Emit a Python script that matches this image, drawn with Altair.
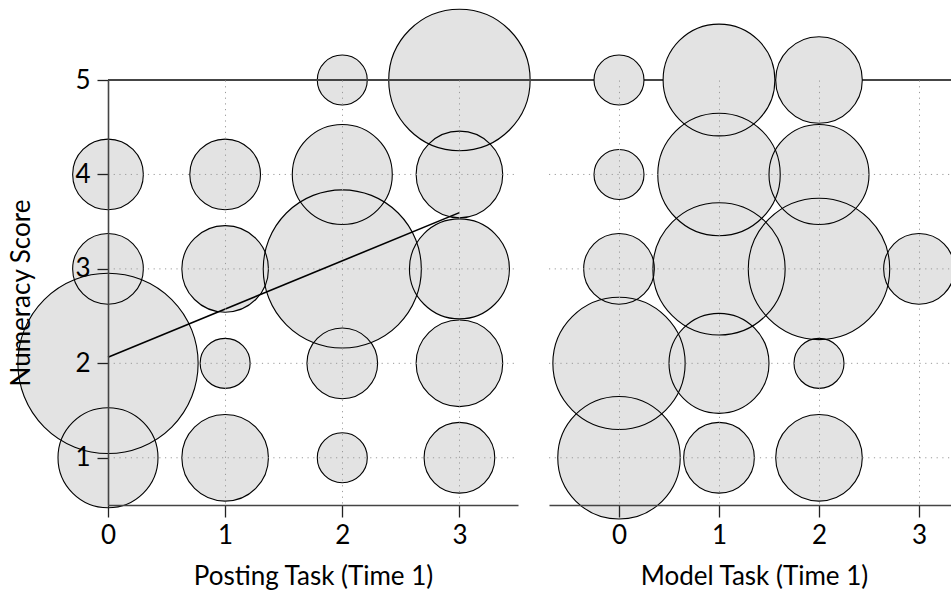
import altair as alt
import numpy as np
import pandas as pd

# Numeracy score (1-5) against task score (0-3); n = number of students in each cell
posting_task = [0, 0, 0, 0, 1, 1, 1, 1, 2, 2, 2, 2, 2, 3, 3, 3, 3, 3]
posting_score = [1, 2, 3, 4, 1, 2, 3, 4, 1, 2, 3, 4, 5, 1, 2, 3, 4, 5]
posting_n = [4, 13, 2, 2, 3, 1, 3, 2, 1, 2, 10, 4, 1, 2, 3, 4, 3, 8]

model_task = [0, 0, 0, 0, 0, 1, 1, 1, 1, 1, 2, 2, 2, 2, 2, 3]
model_score = [1, 2, 3, 4, 5, 1, 2, 3, 4, 5, 1, 2, 3, 4, 5, 3]
model_n = [6, 7, 2, 1, 1, 2, 4, 7, 6, 5, 3, 1, 8, 4, 3, 2]

task_ticks = [0, 1, 2, 3]
score_ticks = [1, 2, 3, 4, 5]
grid_scores = [1, 2, 3, 4]

FONT = "Lato"
FS = 26
PANEL_W = 410          # pixel width of each panel
GAP = 31               # pixel gap between the panels
PLOT_H = 425
LEFT_PAD = 108
TOP_PAD = 80
TOTAL_W = 951
TOTAL_H = 595
MAX_N = 13

GRID_COLOR = "#9a9a9a"
GRID_DASH = [1.2, 4.5]

score_scale = alt.Scale(domain=[0.5, 5], nice=False, zero=False)
size_scale = alt.Scale(type="linear", domain=[0, MAX_N], range=[0, 2500 * MAX_N], zero=True)

y_axis = alt.Axis(values=score_ticks, title="Numeracy Score", format="d", grid=False,
                  tickSize=11, labelPadding=7, titlePadding=40, labelFlush=False,
                  zindex=1)


def panel(task, score, n, title, x_domain, x_range, fit_line):
    cells = pd.DataFrame({"task": task, "score": score, "n": n})
    x_scale = alt.Scale(domain=x_domain, range=x_range, nice=False, zero=False)
    x_axis = alt.Axis(values=task_ticks, title=title, format="d", grid=True, orient="bottom",
                      tickSize=12, labelPadding=5, titlePadding=15, labelFlush=False,
                      zindex=1)
    x_enc = alt.X("task:Q", scale=x_scale, axis=x_axis)
    y_enc = alt.Y("score:Q", scale=score_scale, axis=y_axis)
    size_enc = alt.Size("n:Q", scale=size_scale, legend=None)

    base = alt.Chart(cells).encode(x=x_enc, y=y_enc, size=size_enc)
    fills = base.mark_circle(fill="#e3e3e3", fillOpacity=1, opacity=1, strokeWidth=0)
    rings = base.mark_circle(fillOpacity=0, opacity=1, stroke="black", strokeWidth=1.1)

    # horizontal dotted guides, one panel wide
    guides = pd.DataFrame({"score": grid_scores,
                           "lo": [x_domain[0]] * len(grid_scores),
                           "hi": [x_domain[1]] * len(grid_scores)})
    hgrid = alt.Chart(guides).mark_rule(
        color=GRID_COLOR, strokeDash=GRID_DASH, strokeWidth=1
    ).encode(
        x=alt.X("lo:Q", scale=x_scale, axis=x_axis),
        x2="hi:Q",
        y=alt.Y("score:Q", scale=score_scale, axis=y_axis),
    )

    layers = [fills, rings, hgrid]
    if fit_line:
        # one row per student, so the least-squares fit is weighted by cell counts
        rows = pd.DataFrame({
            "task": np.repeat(task, n),
            "score": np.repeat(score, n),
        })
        line = alt.Chart(rows).transform_regression(
            "task", "score", extent=[0, 3]
        ).mark_line(color="black", strokeWidth=1.6).encode(
            x=alt.X("task:Q", scale=x_scale, axis=x_axis),
            y=alt.Y("score:Q", scale=score_scale, axis=y_axis),
        )
        layers.append(line)

        # solid line along the top score, running across both panels
        top = alt.Chart(guides).mark_rule(color="#444444", strokeWidth=1.6).encode(
            y=alt.datum(5, scale=score_scale, axis=y_axis),
            x=alt.value(0),
            x2=alt.value(TOTAL_W - LEFT_PAD),
        )
        layers.append(top)

    return alt.layer(*layers)


left = panel(posting_task, posting_score, posting_n, "Posting Task (Time 1)",
             [0, 3.5], [0, PANEL_W], True)
right = panel(model_task, model_score, model_n, "Model Task (Time 1)",
              [-0.7, 3.4], [PANEL_W + GAP, 2 * PANEL_W + GAP], False)

chart = alt.layer(left, right).resolve_scale(
    x="independent"
).resolve_axis(
    x="independent"
).properties(
    width=TOTAL_W - LEFT_PAD,
    height=PLOT_H,
    autosize=alt.AutoSizeParams(type="none"),
    padding={"left": LEFT_PAD, "top": TOP_PAD, "right": 0,
             "bottom": TOTAL_H - TOP_PAD - PLOT_H},
).configure_axis(
    labelFont=FONT, labelFontSize=FS, labelColor="black",
    titleFont=FONT, titleFontSize=FS, titleFontWeight="normal", titleColor="black",
    domainColor="#444444", domainWidth=1.6,
    tickColor="#222222", tickWidth=1.3,
    gridColor=GRID_COLOR, gridDash=GRID_DASH, gridWidth=1,
).configure_view(stroke=None)

chart.save("out.html", embed_options={"renderer": "svg", "actions": False})
